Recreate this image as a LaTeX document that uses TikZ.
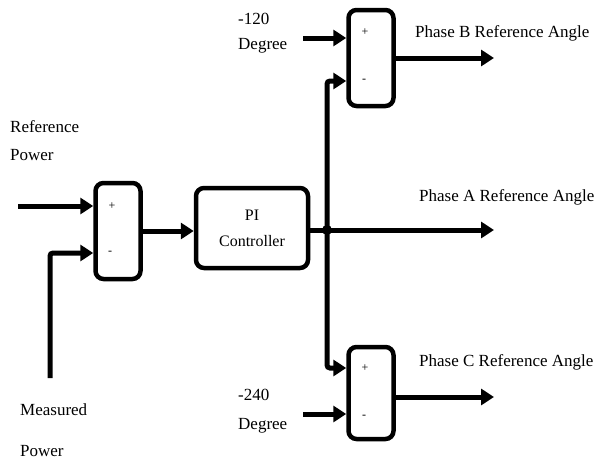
\documentclass[tikz,border=0pt]{standalone}
\usepackage{fontspec}
\setmainfont{Liberation Serif}
\usetikzlibrary{arrows.meta}
\begin{document}
\begin{tikzpicture}[x=1pt,y=-1pt,
  blk/.style={draw,line width=4.5pt,rounded corners=8pt,fill=white},
  wire/.style={line width=5pt},
  arr/.style={line width=5pt,-{Triangle[length=13pt,width=16pt]}},
  lbl/.style={font=\fontsize{17}{20}\selectfont,inner sep=0pt,anchor=west},
  sgn/.style={font=\fontsize{12}{12}\selectfont,inner sep=0pt}]
\useasboundingbox (0,0) rectangle (603,463);
% blocks
\node[blk,minimum width=45pt,minimum height=96pt] (s1) at (118,231) {};
\node[blk,minimum width=112pt,minimum height=80pt,align=center,font=\fontsize{16}{26}\selectfont] (pi) at (252,228) {PI\\Controller};
\node[blk,minimum width=45pt,minimum height=96pt] (sb) at (371,58) {};
\node[blk,minimum width=45pt,minimum height=92pt] (sc) at (371,393) {};
\node[sgn] (p1) at (112,206) {+};
\node[sgn] (m1) at (110,253) {-};
\node[sgn] (pb) at (365,32) {+};
\node[sgn] (mb) at (364,81) {-};
\node[sgn] (pc) at (365,368) {+};
\node[sgn] (mc) at (364,417) {-};
% labels
\node[lbl] (t1) at (10,127) {Reference};
\node[lbl] (t2) at (10,155) {Power};
\node[lbl] (t3) at (20,410) {Measured};
\node[lbl] (t4) at (20,451) {Power};
\node[lbl] (t5) at (238,19) {-120};
\node[lbl] (t6) at (238,46) {Degree};
\node[lbl] (t7) at (238,395) {-240};
\node[lbl] (t8) at (238,426) {Degree};
\node[lbl] (tb) at (415,33) {Phase B Reference Angle};
\node[lbl] (ta) at (419,197) {Phase A Reference Angle};
\node[lbl] (tc) at (419,362) {Phase C Reference Angle};
% coordinates
\coordinate (in1) at (18,206);
\coordinate (in2) at (50,378);
\coordinate (j) at (327,230);
\coordinate (inb) at (303,38);
\coordinate (inc) at (303,414);
\coordinate (ob) at (494,58);
\coordinate (oa) at (494,230);
\coordinate (oc) at (494,397);
% connectors
\draw[arr] (in1) -- (in1 -| s1.west);
\draw[arr,rounded corners=3pt] (in2) |- (s1.west |- 0,253);
\draw[arr] (s1.east |- 0,231) -- (pi.west |- 0,231);
\draw[wire] (pi.east |- j) -- (j);
\draw[arr] (j) -- (oa);
\draw[arr,rounded corners=3pt] (j) |- (sb.west |- 0,81);
\draw[arr,rounded corners=3pt] (j) |- (sc.west |- 0,368);
\draw[arr] (inb) -- (inb -| sb.west);
\draw[arr] (inc) -- (inc -| sc.west);
\draw[arr] (sb.east |- ob) -- (ob);
\draw[arr] (sc.east |- oc) -- (oc);
\fill (j) circle (5pt);
\end{tikzpicture}
\end{document}
